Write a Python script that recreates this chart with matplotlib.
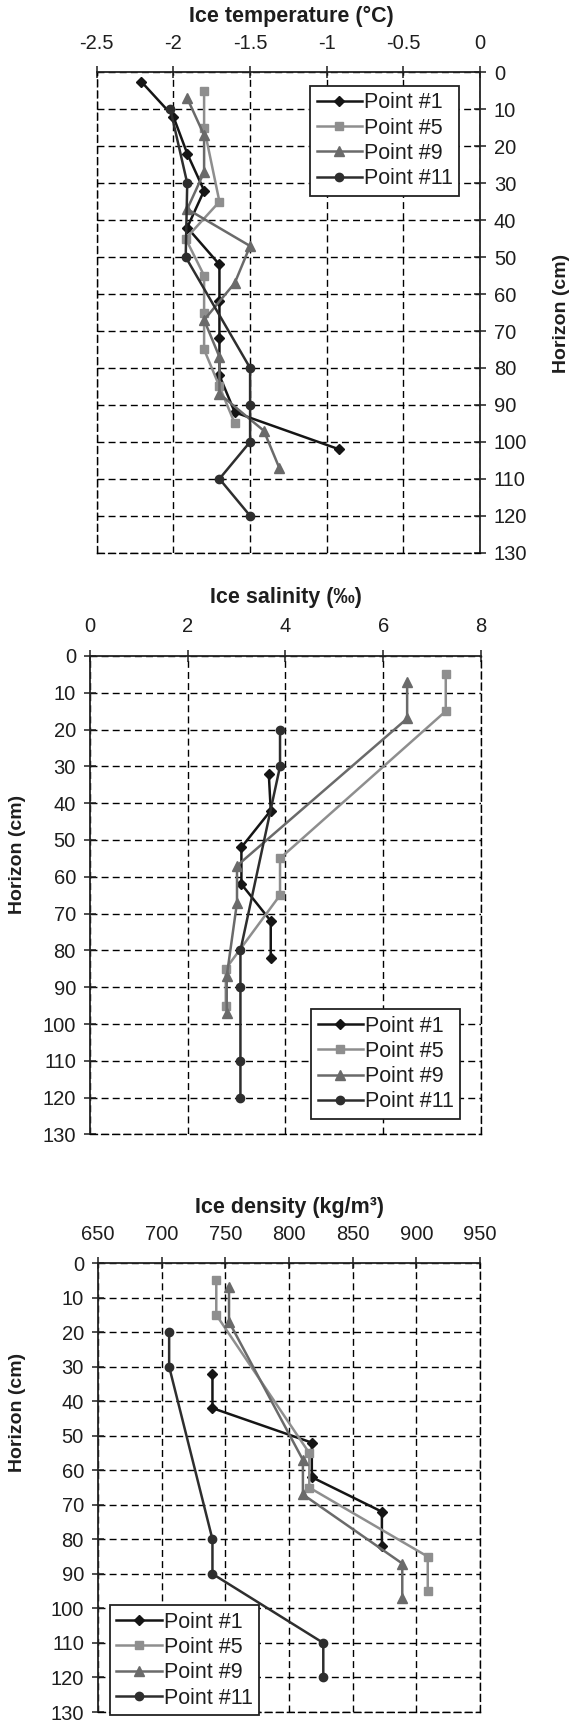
import matplotlib
matplotlib.use("Agg")
import matplotlib.pyplot as plt

plt.rcParams['font.family'] = ['Liberation Sans', 'DejaVu Sans']

labels = ['Point #1', 'Point #5', 'Point #9', 'Point #11']

# ice temperature (°C) vs horizon (cm)
temp_h1 = [2.5, 12, 22, 32, 42, 52, 62, 72, 82, 92, 102]
temp_v1 = [-2.21, -2.0, -1.91, -1.80, -1.91, -1.70, -1.70, -1.70, -1.70, -1.60, -0.92]
temp_h5 = [5, 15, 35, 45, 55, 65, 75, 85, 95]
temp_v5 = [-1.80, -1.80, -1.70, -1.92, -1.80, -1.80, -1.80, -1.70, -1.60]
temp_h9 = [7, 17, 27, 37, 47, 57, 67, 77, 87, 97, 107]
temp_v9 = [-1.91, -1.80, -1.80, -1.91, -1.50, -1.60, -1.80, -1.70, -1.70, -1.41, -1.31]
temp_h11 = [10, 30, 50, 80, 90, 100, 110, 120]
temp_v11 = [-2.02, -1.91, -1.92, -1.50, -1.50, -1.50, -1.70, -1.50]

# ice salinity (‰)
sal_h1 = [32, 42, 52, 62, 72, 82]
sal_v1 = [3.66, 3.70, 3.10, 3.10, 3.70, 3.70]
sal_h5 = [5, 15, 55, 65, 85, 95]
sal_v5 = [7.28, 7.28, 3.89, 3.89, 2.78, 2.78]
sal_h9 = [7, 17, 57, 67, 87, 97]
sal_v9 = [6.49, 6.49, 3.01, 3.01, 2.80, 2.80]
sal_h11 = [20, 30, 80, 90, 110, 120]
sal_v11 = [3.89, 3.89, 3.08, 3.08, 3.08, 3.08]

# ice density (kg/m3)
den_h1 = [32, 42, 52, 62, 72, 82]
den_v1 = [740, 740, 818, 818, 873, 873]
den_h5 = [5, 15, 55, 65, 85, 95]
den_v5 = [743, 743, 816, 816, 909, 909]
den_h9 = [7, 17, 57, 67, 87, 97]
den_v9 = [753, 753, 811, 811, 889, 889]
den_h11 = [20, 30, 80, 90, 110, 120]
den_v11 = [706, 706, 740, 740, 827, 827]

styles = [dict(color='#151515', marker='D', ms=5),
          dict(color='#8e8e8e', marker='s', ms=6),
          dict(color='#6a6a6a', marker='^', ms=6.5),
          dict(color='#2e2e2e', marker='o', ms=6)]

dash = (0, (5, 3))
txt = '#1e1e1e'


def panel(ax, series, xlim, xticks, right_axis):
    for (v, h), lab, st in zip(series, labels, styles):
        ax.plot(v, h, lw=1.8, label=lab, color=st['color'], marker=st['marker'],
                ms=st['ms'], mec=st['color'], mfc=st['color'])
    ax.set_xlim(*xlim)
    ax.set_ylim(130, 0)
    ax.set_xticks(xticks)
    ax.set_yticks(range(0, 131, 10))
    ax.grid(True, color='black', lw=1.0, ls=dash)
    ax.set_axisbelow(True)
    ax.xaxis.tick_top()
    if right_axis:
        ax.yaxis.tick_right()
        solid, dashed = ['top', 'right'], ['left', 'bottom']
    else:
        solid, dashed = ['top', 'left'], ['right', 'bottom']
    for s in solid:
        ax.spines[s].set_linewidth(1.3)
        ax.spines[s].set_color('#222222')
    for s in dashed:
        ax.spines[s].set_linestyle(dash)
        ax.spines[s].set_linewidth(1.0)
    ax.tick_params(axis='both', direction='inout', length=8, width=1.1,
                   labelsize=14.5, colors=txt, pad=6)
    ax.tick_params(axis='x', pad=10)


fig = plt.figure(figsize=(5.76, 17.22), dpi=100)

ax1 = fig.add_axes([0.168, 0.679, 0.6655, 0.279])
panel(ax1, [(temp_v1, temp_h1), (temp_v5, temp_h5), (temp_v9, temp_h9), (temp_v11, temp_h11)],
      (-2.5, 0), [-2.5, -2, -1.5, -1, -0.5, 0], True)
ax1.set_xticklabels(['-2.5', '-2', '-1.5', '-1', '-0.5', '0'])

ax2 = fig.add_axes([0.156, 0.3412, 0.679, 0.2779])
panel(ax2, [(sal_v1, sal_h1), (sal_v5, sal_h5), (sal_v9, sal_h9), (sal_v11, sal_h11)],
      (0, 8), [0, 2, 4, 6, 8], False)

ax3 = fig.add_axes([0.1698, 0.0058, 0.6635, 0.2607])
panel(ax3, [(den_v1, den_h1), (den_v5, den_h5), (den_v9, den_h9), (den_v11, den_h11)],
      (650, 950), [650, 700, 750, 800, 850, 900, 950], False)

for ax, anchor in [(ax1, (0.557, 0.972)), (ax2, (0.566, 0.262)), (ax3, (0.032, 0.238))]:
    leg = ax.legend(loc='upper left', bbox_to_anchor=anchor, borderaxespad=0,
                    fontsize=15.5, handlelength=2.1, handletextpad=0.1,
                    labelspacing=0.2, borderpad=0.3, fancybox=False,
                    framealpha=1, edgecolor='#222222')
    leg.get_frame().set_linewidth(1.3)
    for t in leg.get_texts():
        t.set_color(txt)

fig.text(0.505, 0.9904, 'Ice temperature (°C)', ha='center', va='center',
         fontsize=15.5, fontweight='bold', color=txt)
fig.text(0.496, 0.6533, 'Ice salinity (‰)', ha='center', va='center',
         fontsize=15.5, fontweight='bold', color=txt)
fig.text(0.502, 0.2985, 'Ice density (kg/m³)', ha='center', va='center',
         fontsize=15.5, fontweight='bold', color=txt)

fig.text(0.974, 0.818, 'Horizon (cm)', rotation=90, ha='center', va='center',
         fontsize=14, fontweight='bold', color=txt)
fig.text(0.03, 0.504, 'Horizon (cm)', rotation=90, ha='center', va='center',
         fontsize=14, fontweight='bold', color=txt)
fig.text(0.03, 0.180, 'Horizon (cm)', rotation=90, ha='center', va='center',
         fontsize=14, fontweight='bold', color=txt)

fig.savefig('out.png', dpi=100)
